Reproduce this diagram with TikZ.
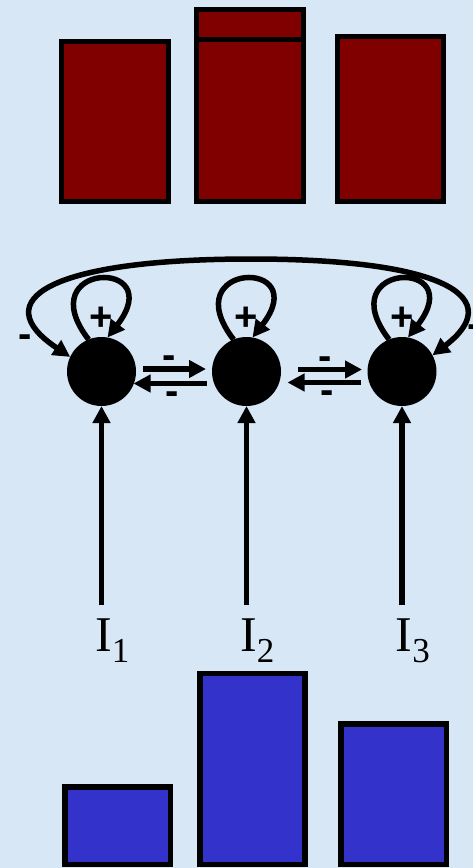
\documentclass[tikz,border=0pt]{standalone}
\usepackage{fontspec}
\setmainfont{Liberation Serif}
\newfontfamily\signfont{Liberation Sans}
\usetikzlibrary{arrows.meta, calc, positioning}
\definecolor{paper}{RGB}{216,231,246}
\definecolor{darkred}{RGB}{128,0,0}
\definecolor{darkblue}{RGB}{51,51,204}
\tikzset{
  >={Triangle[length=17pt,width=17pt]},
  bar/.style={line width=5.5pt, draw=black},
  unit/.style={circle, fill=black, minimum size=69pt, inner sep=0pt, outer sep=0pt},
  link/.style={line width=5.5pt, ->},
  sign/.style={font=\signfont\bfseries\fontsize{40}{40}\selectfont, inner sep=0pt},
  input/.style={font=\fontsize{50}{50}\selectfont, inner sep=0pt, anchor=base west}
}
\begin{document}
\begin{tikzpicture}[x=1pt,y=-1pt]
            \fill[paper] (0,0) rectangle (473,868);
            \useasboundingbox (0,0) rectangle (473,868);

            \draw[bar, fill=darkred] (61.5,41.5) rectangle (168.5,201.5);
            \draw[bar, fill=darkred] (196.5,9.5) rectangle (303.5,39.5);
            \draw[bar, fill=darkred] (196.5,39.5) rectangle (303.5,201.5);
            \draw[bar, fill=darkred] (337.5,36.5) rectangle (443.5,201.5);

            \node[unit] (n1) at (101.5,371.5) {};
            \node[unit] (n2) at (246.5,371.5) {};
            \node[unit] (n3) at (402,371.5) {};

            \foreach \n in {n1,n2,n3}{
              \draw[link] (\n.112) .. controls +(-60,-78) and +(62,-80) .. (\n.80);
              \node[sign] (p\n) at ($(\n)+(0,-53)$) {+};
            }

            \draw[link] ($(n1.east)+(7,-2.5)$) -- ($(n2.west)+(-6,-2.5)$)
              node[sign, pos=0.42, yshift=7pt] {-};
            \draw[link] ($(n2.west)+(-5,12)$) -- ($(n1.east)+(-2.5,12)$)
              node[sign, pos=0.48, yshift=-15pt] {-};
            \draw[link] ($(n2.east)+(17,-2)$) -- ($(n3.west)+(-5.5,-2)$)
              node[sign, pos=0.42, yshift=6pt] {-};
            \draw[link] ($(n3.west)+(-6.5,11)$) -- ($(n2.east)+(6.5,11)$)
              node[sign, pos=0.46, yshift=-15pt] {-};

            \draw[link, <->] (n1.155) .. controls (-15,300) and (50,259) .. (251,259)
              .. controls (452,259) and (505,300) .. (n3.28);
            \node[sign] (ml) at (25,341.6) {-};
            \node[sign] (mr) at (474,331.6) {-};

            \node[input] (i1) at (95,651) {I\raisebox{-11pt}{\fontsize{35}{35}\selectfont 1}};
            \node[input] (i2) at (240,651) {I\raisebox{-11pt}{\fontsize{35}{35}\selectfont 2}};
            \node[input] (i3) at (395.5,651) {I\raisebox{-11pt}{\fontsize{35}{35}\selectfont 3}};
            \draw[link] ($(n1 |- i1.north)+(0,-13)$) -- (n1.south);
            \draw[link] ($(n2 |- i2.north)+(0,-13)$) -- (n2.south);
            \draw[link] ($(n3 |- i3.north)+(0,-13)$) -- (n3.south);

            \draw[bar, fill=darkblue] (65,787) rectangle (170.5,864.5);
            \draw[bar, fill=darkblue] (200,673.5) rectangle (305,864.5);
            \draw[bar, fill=darkblue] (341,724) rectangle (446.5,864.5);
\end{tikzpicture}
\end{document}
